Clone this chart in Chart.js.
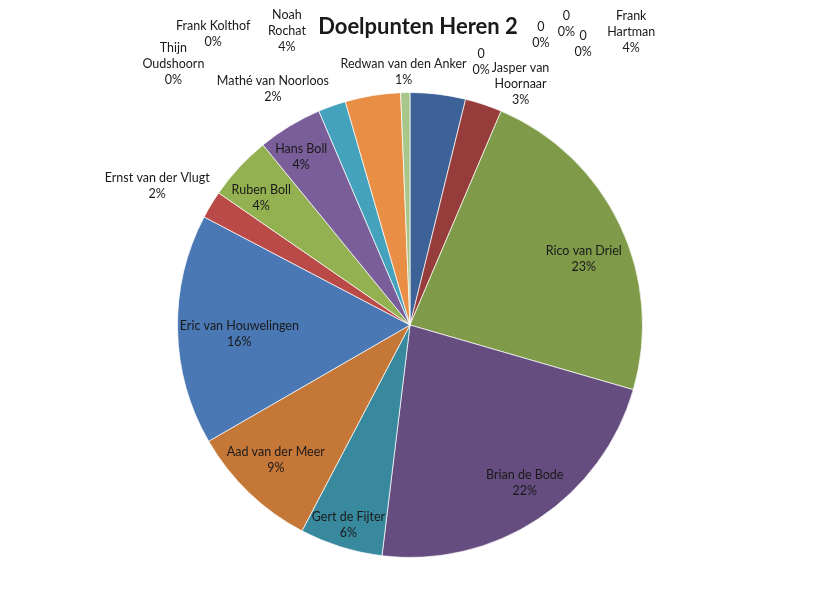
<!DOCTYPE html>
<html>
<head>
<meta charset="utf-8">
<script src="https://cdn.jsdelivr.net/npm/chart.js@4.4.0/dist/chart.umd.min.js"></script>
<style>
	html, body { margin: 0; padding: 0; background: #fff; }
	#wrap { width: 820px; height: 608px; }
</style>
</head>
<body>
<div id="wrap"><canvas id="pieChart" width="820" height="608"></canvas></div>
<script>
const titel = "Doelpunten Heren 2";

// spelers, met de wijzers mee vanaf 12 uur
const spelers = [
	"Frank Hartman", "0", "0", "0", "0", "Jasper van Hoornaar",
	"Rico van Driel", "Brian de Bode", "Gert de Fijter", "Aad van der Meer",
	"Eric van Houwelingen", "Ernst van der Vlugt", "Ruben Boll", "Hans Boll",
	"Mathé van Noorloos", "Noah Rochat", "Redwan van den Anker",
	"Frank Kolthof", "Thijn Oudshoorn",
];
const doelpunten = [6, 0, 0, 0, 0, 4, 36, 35, 9, 14, 25, 3, 7, 7, 3, 6, 1, 0, 0];

const kleuren = [
	"#3d6297", "#4f81bd", "#c0504d", "#9bbb59", "#8064a2", "#963d3b",
	"#7f9a48", "#654d7f", "#38899d", "#c47737",
	"#4978b4", "#b94a47", "#94b152", "#795e9a",
	"#45a2bd", "#e98f45", "#a9c78a",
	"#2c4d75", "#772c2a",
];

// label plek: [straal factor, hoek verschuiving in graden, max breedte]
const labelPlek = [
	[1.58, 30.1, 50], [1.17, 1.3, 99], [1.37, 10.4, 99], [1.46, 13.6, 99],
	[1.42, 17.8, 99], [1.14, 6.2, 70], [0.8, 4.5, 999], [0.84, -2.5, 999],
	[0.9, -0.2, 999], [0.82, 0.9, 999], [0.735, -2.0, 999], [1.24, -2.4, 999],
	[0.84, -2.3, 999], [0.86, -1.8, 999], [1.175, -10.5, 999],
	[1.37, -13.5, 45], [1.09, -0.3, 999], [1.51, -34.1, 999], [1.515, -42.2, 60],
];

const labelFont = "12.5px Lato";
const lineHeight = 16;

function wrapText(ctx, text, maxWidth) {
	const words = text.split(" ");
	const lines = [];
	let line = "";
	words.forEach((w) => {
		const test = line ? line + " " + w : w;
		if (line && ctx.measureText(test).width > maxWidth) {
			lines.push(line);
			line = w;
		} else {
			line = test;
		}
	});
	lines.push(line);
	return lines;
}

const pieLabels = {
	id: "pieLabels",
	afterDatasetsDraw(chart) {
		const ctx = chart.ctx;
		const meta = chart.getDatasetMeta(0);
		const total = doelpunten.reduce((a, b) => a + b, 0);
		ctx.save();
		ctx.fillStyle = "#1a1a1a";
		ctx.textAlign = "center";
		ctx.textBaseline = "middle";

		// titel
		ctx.font = "bold 22px Lato";
		ctx.fillText(titel, chart.width / 2 + 8, 27);

		ctx.font = labelFont;
		meta.data.forEach((arc, i) => {
			const p = arc.getProps(["x", "y", "startAngle", "endAngle", "outerRadius"], true);
			const plek = labelPlek[i];
			const hoek = (p.startAngle + p.endAngle) / 2 + plek[1] * Math.PI / 180;
			const r = p.outerRadius * plek[0];
			const x = p.x + Math.cos(hoek) * r;
			const y = p.y + Math.sin(hoek) * r;
			const pct = Math.round(doelpunten[i] / total * 100) + "%";
			const lines = wrapText(ctx, spelers[i], plek[2]).concat([pct]);
			const top = y - (lines.length - 1) * lineHeight / 2;
			lines.forEach((l, j) => ctx.fillText(l, x, top + j * lineHeight));
		});
		ctx.restore();
	},
};

const chart = new Chart(document.getElementById("pieChart").getContext("2d"), {
	type: "pie",
	data: {
		labels: spelers,
		datasets: [
			{
				data: doelpunten,
				backgroundColor: kleuren,
				borderColor: "rgba(255, 255, 255, 0.7)",
				borderWidth: (c) => (doelpunten[c.dataIndex] === 0 ? 0 : 1),
			},
		],
	},
	options: {
		responsive: false,
		animation: false,
		layout: { padding: { top: 92, bottom: 50, left: 0, right: 0 } },
		plugins: {
			legend: { display: false },
			tooltip: { enabled: false },
		},
	},
	plugins: [pieLabels],
});
</script>
</body>
</html>
